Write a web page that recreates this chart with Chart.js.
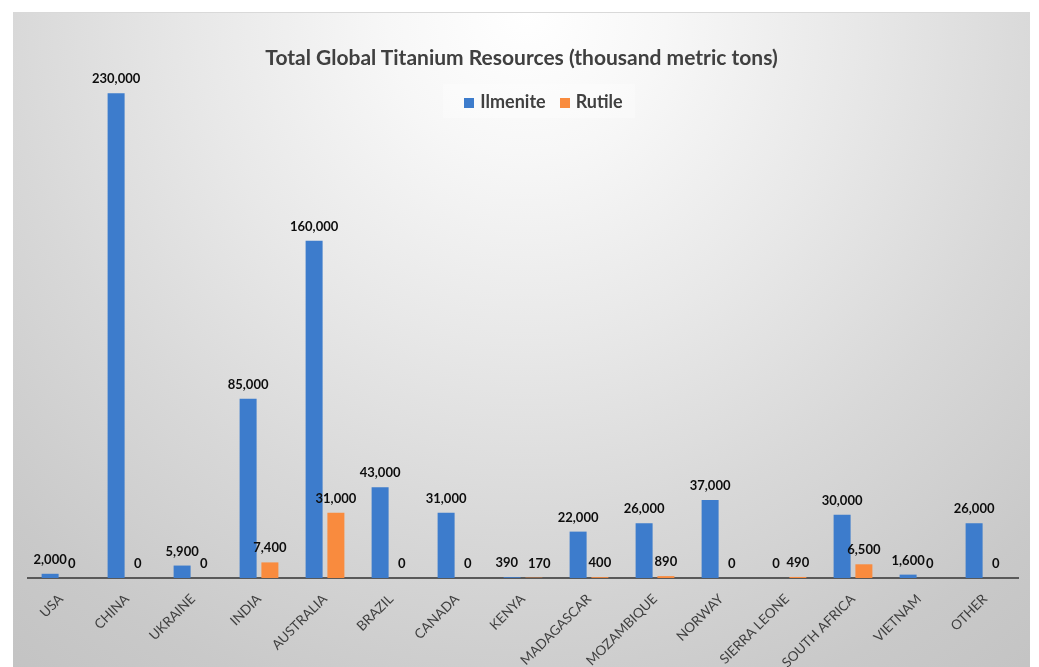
<!DOCTYPE html>
<html>
<head>
<meta charset="utf-8">
<title>Total Global Titanium Resources</title>
<script src="https://cdn.jsdelivr.net/npm/chart.js@4.4.1/dist/chart.umd.min.js"></script>
<style>
    body {
        margin: 0;
        background: #ffffff;
        font-family: Lato, 'Noto Sans', sans-serif;
    }

    .chart-box {
        position: absolute;
        left: 13px;
        top: 12px;
        width: 1017px;
        height: 655px;
        border-top: 1px solid #d9d9d9;
        box-sizing: border-box;
        background: radial-gradient(circle at 50.5% 0%, #ffffff 0px, #f7f7f7 140px, #e8e8e8 330px, #d8d8d8 520px, #c9c9c9 720px, #c0c0c0 900px);
    }

    .chart-title {
        position: absolute;
        left: 0;
        width: 100%;
        top: 31px;
        text-align: center;
        font-size: 21px;
        font-weight: bold;
        color: #404040;
    }

    .chart-legend {
        position: absolute;
        top: 71px;
        left: 430px;
        width: 192px;
        height: 34px;
        line-height: 34px;
        padding-left: 9px;
        box-sizing: border-box;
        text-align: center;
        font-size: 18px;
        font-weight: bold;
        color: #404040;
        background: rgba(255, 255, 255, 0.3);
    }

    .chart-legend span {
        margin: 0 7px;
    }

    .chart-legend i {
        display: inline-block;
        width: 10px;
        height: 10px;
        margin-right: 6px;
    }

    canvas {
        position: absolute;
        left: 0;
        top: 0;
    }
</style>
</head>
<body>

<div class="chart-box">
    <canvas class="resources" width="1017" height="655"></canvas>
    <div class="chart-title">Total Global Titanium Resources (thousand metric tons)</div>
    <div class="chart-legend">
        <span><i style="background:#3d7ccc"></i>Ilmenite</span><span><i style="background:#f98b3e"></i>Rutile</span>
    </div>
</div>

<script>
let
    countries = ['USA', 'CHINA', 'UKRAINE', 'INDIA', 'AUSTRALIA', 'BRAZIL', 'CANADA', 'KENYA', 'MADAGASCAR', 'MOZAMBIQUE', 'NORWAY', 'SIERRA LEONE', 'SOUTH AFRICA', 'VIETNAM', 'OTHER'],
    ilmenite = [2000, 230000, 5900, 85000, 160000, 43000, 31000, 390, 22000, 26000, 37000, 0, 30000, 1600, 26000],
    rutile = [0, 0, 0, 7400, 31000, 0, 0, 170, 400, 890, 0, 490, 6500, 0, 0],
    yMax = 250000;


// value labels above every bar; a pair that would overlap gets pushed apart
let barValues = {
    id: 'barValues',
    afterDatasetsDraw(chart) {
        let ctx = chart.ctx;
        let left = chart.getDatasetMeta(0).data;
        let right = chart.getDatasetMeta(1).data;
        ctx.save();
        ctx.font = 'bold 13px Lato';
        ctx.fillStyle = '#0d0d0d';
        ctx.textAlign = 'center';
        ctx.textBaseline = 'alphabetic';
        countries.forEach((c, j) => {
            let a = ilmenite[j].toLocaleString('en-US'),
                b = rutile[j].toLocaleString('en-US'),
                ax = left[j].x,
                bx = right[j].x,
                gap = (bx - ctx.measureText(b).width / 2) - (ax + ctx.measureText(a).width / 2);
            if (gap < 0.5 && Math.abs(left[j].y - right[j].y) < 14) {
                ax -= (10 - gap) / 2;
                bx += (10 - gap) / 2;
            }
            ctx.fillText(a, ax, left[j].y - 10);
            ctx.fillText(b, bx, right[j].y - 10);
        });
        ctx.restore();
    }
};


function displayResourcesChart() {
    let resourcesChart = document.querySelector('.resources').getContext('2d');
    let resourcesBarChart;
    resourcesBarChart = new Chart(resourcesChart, {
        type: 'bar',
        data: {
            labels: countries,
            datasets: [{
                label: 'Ilmenite',
                data: ilmenite,
                backgroundColor: '#3d7ccc'
            }, {
                label: 'Rutile',
                data: rutile,
                backgroundColor: '#f98b3e'
            }]
        },
        options: {
            responsive: false,
            animation: false,
            categoryPercentage: 0.66,
            barPercentage: 0.78,
            layout: {
                padding: { left: 15, right: 12, top: 38, bottom: 0 }
            },
            scales: {
                x: {
                    grid: { display: false },
                    border: { color: '#595959', width: 2 },
                    ticks: {
                        minRotation: 45,
                        maxRotation: 45,
                        padding: 5,
                        color: '#404040',
                        font: { family: 'Lato', size: 13.5 }
                    },
                    afterFit(scale) {
                        scale.height = 90;
                    }
                },
                y: {
                    display: false,
                    min: 0,
                    max: yMax
                }
            },
            plugins: {
                legend: { display: false },
                tooltip: { enabled: false }
            }
        },
        plugins: [barValues]
    })
}
displayResourcesChart();
</script>
</body>
</html>
